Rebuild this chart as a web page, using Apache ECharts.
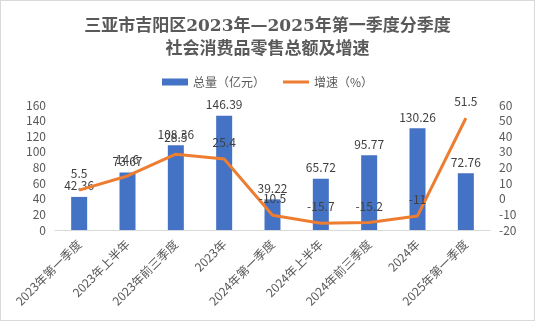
<!DOCTYPE html>
<html><head><meta charset="utf-8">
<script src="https://cdn.jsdelivr.net/npm/echarts@6/dist/echarts.min.js"></script>
<style>html,body{margin:0;padding:0;background:#fff}#c{width:535px;height:321px;box-sizing:border-box;border:1px solid #d9d9d9}</style>
</head><body><div id="c"></div>
<script>
const categories = ['2023年第一季度','2023年上半年','2023年前三季度','2023年','2024年第一季度','2024年上半年','2024年前三季度','2024年','2025年第一季度'];
const totalValues = [42.36, 73.67, 108.36, 146.39, 39.22, 65.72, 95.77, 130.26, 72.76];
const growthValues = [5.5, 14.6, 28.5, 25.4, -10.5, -15.7, -15.2, -11, 51.5];
const titleLines = ['三亚市吉阳区2023年—2025年第一季度分季度', '社会消费品零售总额及增速'];
const legendNames = ['总量（亿元）', '增速（%）'];
const font = '"Microsoft YaHei","Noto Sans CJK SC",sans-serif';
const c = echarts.init(document.getElementById('c'));
c.setOption({
  animation: false,
  title: {
    text: titleLines.join('\n'), left: 'center', top: 9,
    textStyle: {fontFamily: '"DejaVu Serif","Noto Sans CJK SC",serif', fontWeight: 'bold', fontSize: 17, lineHeight: 23, color: '#595959'}
  },
  legend: {
    top: 70, left: 'center', itemGap: 18, itemWidth: 26, itemHeight: 7,
    textStyle: {fontFamily: font, fontSize: 12, color: '#595959'},
    data: [{name: legendNames[0], icon: 'rect'}, {name: legendNames[1], icon: 'path://M0,0H26V3H0Z', itemStyle: {color: '#ED7D31'}}]
  },
  grid: {left: 54, right: 44, top: 104, bottom: 90},
  xAxis: {
    type: 'category', data: categories,
    axisLine: {lineStyle: {color: '#d9d9d9'}}, axisTick: {show: false},
    axisLabel: {rotate: 45, interval: 0, fontFamily: font, fontSize: 12, color: '#595959', margin: 12}
  },
  yAxis: [
    {type: 'value', min: 0, max: 160, interval: 20, splitLine: {show: false},
     axisLabel: {fontFamily: font, fontSize: 12, color: '#595959', margin: 9}},
    {type: 'value', min: -20, max: 60, interval: 10, splitLine: {show: false},
     axisLabel: {fontFamily: font, fontSize: 12, color: '#595959', margin: 9}}
  ],
  series: [
    {name: legendNames[0], type: 'bar', data: totalValues, barWidth: 16, itemStyle: {color: '#4472C4'},
     label: {show: true, position: 'top', distance: 5, fontFamily: font, fontSize: 12, color: '#404040'}},
    {name: legendNames[1], type: 'line', yAxisIndex: 1, data: growthValues, symbol: 'circle', symbolSize: 1, showSymbol: true,
     lineStyle: {color: '#ED7D31', width: 3}, itemStyle: {color: '#ED7D31'},
     label: {show: true, position: 'top', distance: 10, fontFamily: font, fontSize: 12, color: '#404040'}}
  ]
});
</script></body></html>
